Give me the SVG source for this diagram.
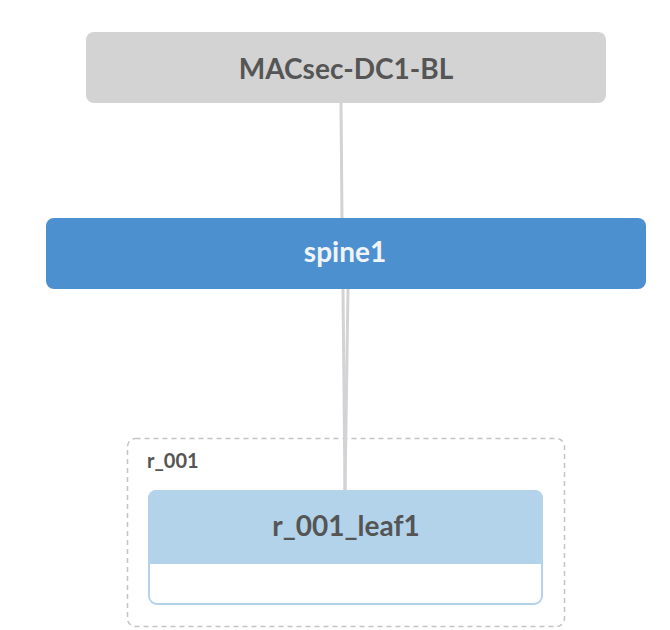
<svg xmlns="http://www.w3.org/2000/svg" width="670" height="630" viewBox="0 0 670 630">
<style>
.lbl{font-family:Lato,"Noto Sans",sans-serif;font-weight:bold;font-size:28px;text-anchor:middle}
.edge{stroke:#d3d3d6;stroke-width:3;fill:none}
</style>
<rect width="670" height="630" fill="#ffffff"/>
<g id="group-r_001">
<rect x="127.5" y="438.5" width="437" height="188" rx="8" fill="none" stroke="#c4c4c4" stroke-width="1.5" stroke-dasharray="5,4"/>
<text x="147" y="468" font-family="Lato,'Noto Sans',sans-serif" font-weight="bold" font-size="20" fill="#555555">r_001</text>
</g>
<g id="connectors">
<line class="edge" x1="341" y1="103" x2="342" y2="218"/>
<line class="edge" x1="343" y1="289" x2="345" y2="490"/>
<line class="edge" x1="348" y1="289" x2="345" y2="490"/>
</g>
<g id="node-MACsec-DC1-BL">
<rect x="86" y="32" width="520" height="71" rx="8" fill="#d3d3d3"/>
<text class="lbl" x="346" y="79" fill="#555555">MACsec-DC1-BL</text>
</g>
<g id="node-spine1">
<rect x="46" y="218" width="600" height="71" rx="8" fill="#4d90cf"/>
<text class="lbl" x="345" y="262" fill="#f0f4f8">spine1</text>
</g>
<g id="node-r_001_leaf1">
<rect x="149" y="491" width="393" height="113" rx="8" fill="#ffffff" stroke="#b3d3eb" stroke-width="2"/>
<path d="M148 564 V498 a8 8 0 0 1 8 -8 H535 a8 8 0 0 1 8 8 V564 Z" fill="#b3d3eb"/>
<text class="lbl" x="346" y="536" fill="#555555">r_001_leaf1</text>
</g>
</svg>
